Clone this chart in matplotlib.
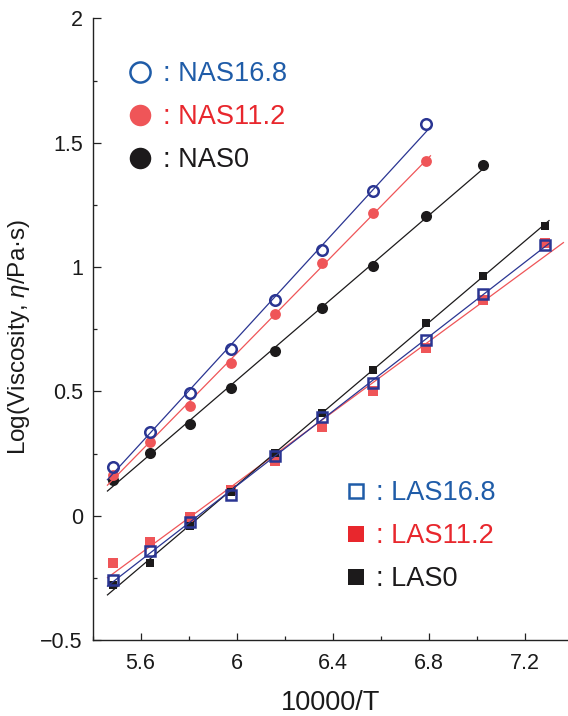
import numpy as np
import matplotlib
matplotlib.use("Agg")
import matplotlib.pyplot as plt
from matplotlib.lines import Line2D
from matplotlib.ticker import MultipleLocator, FuncFormatter

plt.rcParams['font.family'] = ['Liberation Sans', 'DejaVu Sans']
plt.rcParams['mathtext.fontset'] = 'custom'
plt.rcParams['mathtext.rm'] = 'Liberation Sans'
plt.rcParams['mathtext.it'] = 'Liberation Sans:italic'

# ---- data (10000/T and log viscosity) ----
x_all = [5.485, 5.640, 5.804, 5.977, 6.161, 6.357, 6.566, 6.789, 7.027, 7.283]

nas168 = [0.198, 0.338, 0.494, 0.672, 0.867, 1.068, 1.306, 1.576]
nas112 = [0.165, 0.297, 0.442, 0.614, 0.810, 1.017, 1.218, 1.425]
nas0 = [0.143, 0.254, 0.370, 0.512, 0.664, 0.835, 1.006, 1.206, 1.410]
las168 = [-0.259, -0.143, -0.025, 0.084, 0.241, 0.397, 0.533, 0.707, 0.891, 1.089]
las112 = [-0.189, -0.106, -0.007, 0.104, 0.221, 0.355, 0.500, 0.674, 0.868, 1.098]
las0 = [-0.277, -0.190, -0.043, 0.095, 0.254, 0.413, 0.587, 0.777, 0.965, 1.167]

nas_labels = [': NAS16.8', ': NAS11.2', ': NAS0']
las_labels = [': LAS16.8', ': LAS11.2', ': LAS0']

x_ticks = [5.6, 6.0, 6.4, 6.8, 7.2]
y_ticks = [-0.5, 0, 0.5, 1, 1.5, 2]

BLUE_M = '#2a3592'
BLUE_T = '#1f5ca8'
RED_M = '#ef5558'
RED_T = '#e8272d'
BLACK = '#1c1a1b'

fig = plt.figure(figsize=(5.68, 7.16), dpi=100)
ax = fig.add_axes([0.163, 0.106, 0.837, 0.8684])

series = [
    # values, marker, size, face, edge, line color, right pad, zorder
    (las112, 's', 7.4, RED_M, RED_M, RED_M, 0.08, 3),
    (las0, 's', 5.6, BLACK, BLACK, BLACK, 0.02, 4),
    (las168, 's', 7.0, 'none', BLUE_M, BLUE_M, 0.02, 5),
    (nas0, 'o', 8.0, BLACK, BLACK, BLACK, 0.02, 3),
    (nas112, 'o', 7.8, RED_M, RED_M, RED_M, 0.02, 4),
    (nas168, 'o', 7.6, 'none', BLUE_M, BLUE_M, 0.02, 5),
]

for vals, mk, ms, fc, ec, lc, rpad, z in series:
    xs = np.array(x_all[:len(vals)])
    ys = np.array(vals)
    k, b = np.polyfit(xs, ys, 1)
    xl = np.array([xs.min() - 0.025, xs.max() + rpad])
    ax.plot(xl, k * xl + b, color=lc, lw=0.9, zorder=z - 1, solid_capstyle='butt')
    ax.plot(xs, ys, linestyle='none', marker=mk, markersize=ms,
            markerfacecolor=fc, markeredgecolor=ec,
            markeredgewidth=1.8 if fc == 'none' else 0.0, zorder=z)


def fmt(v, pos):
    s = '%g' % v
    return s.replace('-', '\u2212')


ax.set_xlim(5.4, 7.38)
ax.set_ylim(-0.5, 2)
ax.set_xticks(x_ticks)
ax.set_yticks(y_ticks)
ax.xaxis.set_minor_locator(MultipleLocator(0.2))
ax.yaxis.set_minor_locator(MultipleLocator(0.25))
ax.xaxis.set_major_formatter(FuncFormatter(fmt))
ax.yaxis.set_major_formatter(FuncFormatter(fmt))
ax.spines['top'].set_visible(False)
ax.spines['right'].set_visible(False)
for s in ['left', 'bottom']:
    ax.spines[s].set_linewidth(1.0)
    ax.spines[s].set_color('#222222')
ax.tick_params(which='both', direction='in', width=0.9, colors='#222222',
               labelsize=15.5, labelcolor='#1a1a1a')
ax.tick_params(which='major', length=5.4)
ax.tick_params(which='minor', length=3.2)
ax.tick_params(axis='x', which='major', pad=9)
ax.tick_params(axis='y', which='major', pad=7)

ax.set_xlabel('10000/T', fontsize=19.5, color='#1a1a1a', labelpad=12)
ax.set_ylabel(r'Log(Viscosity, $\mathit{\eta}$/Pa·s)', fontsize=17.5,
              color='#1a1a1a')
ax.yaxis.set_label_coords(-0.128, 0.487)

# ---- legends ----
nas_handles = [
    Line2D([], [], linestyle='none', marker='o', markersize=14.5,
           markerfacecolor='none', markeredgecolor=BLUE_T, markeredgewidth=1.8),
    Line2D([], [], linestyle='none', marker='o', markersize=15.5,
           markerfacecolor=RED_M, markeredgewidth=0),
    Line2D([], [], linestyle='none', marker='o', markersize=15.5,
           markerfacecolor=BLACK, markeredgewidth=0),
]
las_handles = [
    Line2D([], [], linestyle='none', marker='s', markersize=10.5,
           markerfacecolor='none', markeredgecolor=BLUE_T, markeredgewidth=1.8),
    Line2D([], [], linestyle='none', marker='s', markersize=12,
           markerfacecolor=RED_T, markeredgewidth=0),
    Line2D([], [], linestyle='none', marker='s', markersize=12,
           markerfacecolor=BLACK, markeredgewidth=0),
]
tcolors = [BLUE_T, RED_T, BLACK]

leg1 = ax.legend(nas_handles, nas_labels, loc='upper left',
                 bbox_to_anchor=(0.071, 0.931), frameon=False, fontsize=19.5,
                 handlelength=1.0, handletextpad=0.35, borderpad=0,
                 borderaxespad=0, labelspacing=0.63)
for t, c in zip(leg1.get_texts(), tcolors):
    t.set_color(c)
ax.add_artist(leg1)

leg2 = ax.legend(las_handles, las_labels, loc='upper left',
                 bbox_to_anchor=(0.525, 0.2574), frameon=False, fontsize=19.5,
                 handlelength=1.0, handletextpad=0.25, borderpad=0,
                 borderaxespad=0, labelspacing=0.63)
for t, c in zip(leg2.get_texts(), tcolors):
    t.set_color(c)

fig.savefig('out.png', dpi=100)
